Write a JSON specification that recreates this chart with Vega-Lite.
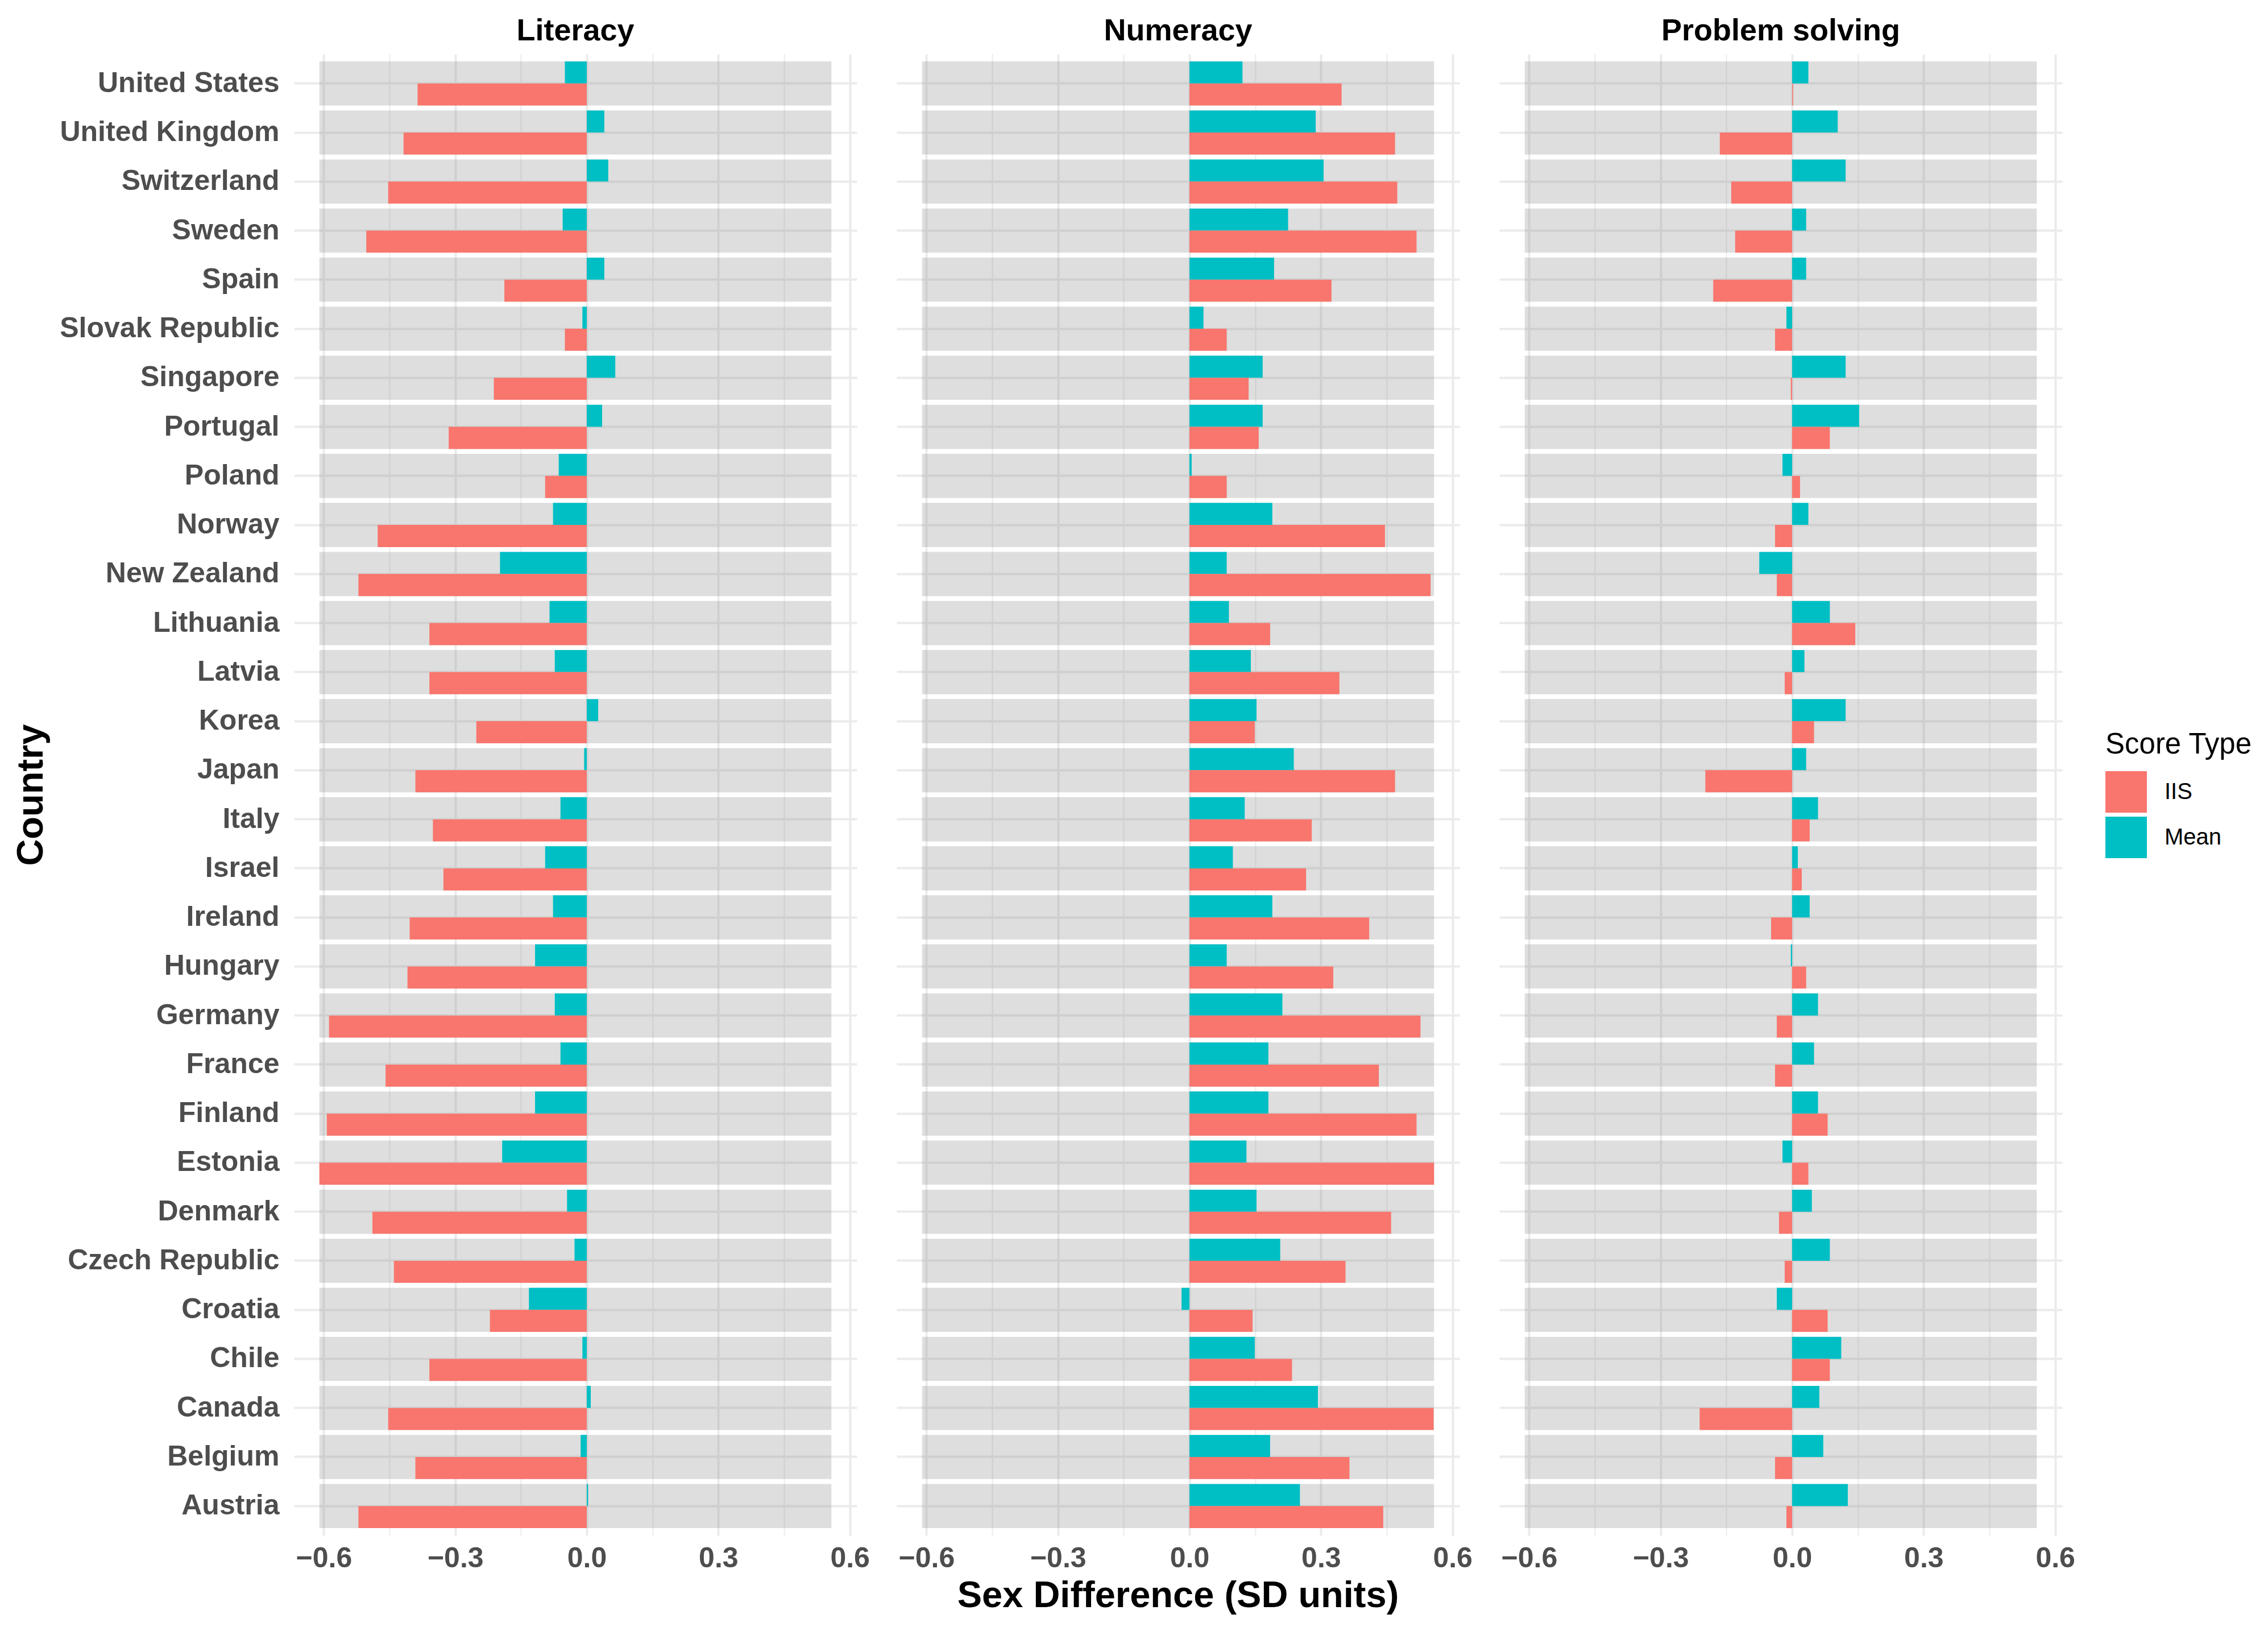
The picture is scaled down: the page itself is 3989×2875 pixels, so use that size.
{
  "$schema": "https://vega.github.io/schema/vega-lite/v6.json",
  "background": "white",
  "padding": {"left": 22, "top": 28, "right": 0, "bottom": 0},
  "datasets": {
    "scores": [
      {"country":"United States","skill":"Literacy","type":"Mean","value":-0.050},{"country":"United States","skill":"Literacy","type":"IIS","value":-0.386},
      {"country":"United Kingdom","skill":"Literacy","type":"Mean","value":0.040},{"country":"United Kingdom","skill":"Literacy","type":"IIS","value":-0.418},
      {"country":"Switzerland","skill":"Literacy","type":"Mean","value":0.049},{"country":"Switzerland","skill":"Literacy","type":"IIS","value":-0.453},
      {"country":"Sweden","skill":"Literacy","type":"Mean","value":-0.055},{"country":"Sweden","skill":"Literacy","type":"IIS","value":-0.503},
      {"country":"Spain","skill":"Literacy","type":"Mean","value":0.040},{"country":"Spain","skill":"Literacy","type":"IIS","value":-0.188},
      {"country":"Slovak Republic","skill":"Literacy","type":"Mean","value":-0.010},{"country":"Slovak Republic","skill":"Literacy","type":"IIS","value":-0.050},
      {"country":"Singapore","skill":"Literacy","type":"Mean","value":0.065},{"country":"Singapore","skill":"Literacy","type":"IIS","value":-0.212},
      {"country":"Portugal","skill":"Literacy","type":"Mean","value":0.035},{"country":"Portugal","skill":"Literacy","type":"IIS","value":-0.315},
      {"country":"Poland","skill":"Literacy","type":"Mean","value":-0.064},{"country":"Poland","skill":"Literacy","type":"IIS","value":-0.095},
      {"country":"Norway","skill":"Literacy","type":"Mean","value":-0.077},{"country":"Norway","skill":"Literacy","type":"IIS","value":-0.477},
      {"country":"New Zealand","skill":"Literacy","type":"Mean","value":-0.198},{"country":"New Zealand","skill":"Literacy","type":"IIS","value":-0.521},
      {"country":"Lithuania","skill":"Literacy","type":"Mean","value":-0.085},{"country":"Lithuania","skill":"Literacy","type":"IIS","value":-0.359},
      {"country":"Latvia","skill":"Literacy","type":"Mean","value":-0.073},{"country":"Latvia","skill":"Literacy","type":"IIS","value":-0.359},
      {"country":"Korea","skill":"Literacy","type":"Mean","value":0.026},{"country":"Korea","skill":"Literacy","type":"IIS","value":-0.252},
      {"country":"Japan","skill":"Literacy","type":"Mean","value":-0.006},{"country":"Japan","skill":"Literacy","type":"IIS","value":-0.391},
      {"country":"Italy","skill":"Literacy","type":"Mean","value":-0.060},{"country":"Italy","skill":"Literacy","type":"IIS","value":-0.351},
      {"country":"Israel","skill":"Literacy","type":"Mean","value":-0.095},{"country":"Israel","skill":"Literacy","type":"IIS","value":-0.327},
      {"country":"Ireland","skill":"Literacy","type":"Mean","value":-0.077},{"country":"Ireland","skill":"Literacy","type":"IIS","value":-0.404},
      {"country":"Hungary","skill":"Literacy","type":"Mean","value":-0.118},{"country":"Hungary","skill":"Literacy","type":"IIS","value":-0.409},
      {"country":"Germany","skill":"Literacy","type":"Mean","value":-0.073},{"country":"Germany","skill":"Literacy","type":"IIS","value":-0.588},
      {"country":"France","skill":"Literacy","type":"Mean","value":-0.060},{"country":"France","skill":"Literacy","type":"IIS","value":-0.459},
      {"country":"Finland","skill":"Literacy","type":"Mean","value":-0.118},{"country":"Finland","skill":"Literacy","type":"IIS","value":-0.593},
      {"country":"Estonia","skill":"Literacy","type":"Mean","value":-0.193},{"country":"Estonia","skill":"Literacy","type":"IIS","value":-0.610},
      {"country":"Denmark","skill":"Literacy","type":"Mean","value":-0.045},{"country":"Denmark","skill":"Literacy","type":"IIS","value":-0.489},
      {"country":"Czech Republic","skill":"Literacy","type":"Mean","value":-0.028},{"country":"Czech Republic","skill":"Literacy","type":"IIS","value":-0.440},
      {"country":"Croatia","skill":"Literacy","type":"Mean","value":-0.132},{"country":"Croatia","skill":"Literacy","type":"IIS","value":-0.221},
      {"country":"Chile","skill":"Literacy","type":"Mean","value":-0.010},{"country":"Chile","skill":"Literacy","type":"IIS","value":-0.359},
      {"country":"Canada","skill":"Literacy","type":"Mean","value":0.009},{"country":"Canada","skill":"Literacy","type":"IIS","value":-0.453},
      {"country":"Belgium","skill":"Literacy","type":"Mean","value":-0.014},{"country":"Belgium","skill":"Literacy","type":"IIS","value":-0.391},
      {"country":"Austria","skill":"Literacy","type":"Mean","value":0.003},{"country":"Austria","skill":"Literacy","type":"IIS","value":-0.521},

      {"country":"United States","skill":"Numeracy","type":"Mean","value":0.121},{"country":"United States","skill":"Numeracy","type":"IIS","value":0.347},
      {"country":"United Kingdom","skill":"Numeracy","type":"Mean","value":0.288},{"country":"United Kingdom","skill":"Numeracy","type":"IIS","value":0.469},
      {"country":"Switzerland","skill":"Numeracy","type":"Mean","value":0.306},{"country":"Switzerland","skill":"Numeracy","type":"IIS","value":0.474},
      {"country":"Sweden","skill":"Numeracy","type":"Mean","value":0.225},{"country":"Sweden","skill":"Numeracy","type":"IIS","value":0.518},
      {"country":"Spain","skill":"Numeracy","type":"Mean","value":0.193},{"country":"Spain","skill":"Numeracy","type":"IIS","value":0.324},
      {"country":"Slovak Republic","skill":"Numeracy","type":"Mean","value":0.032},{"country":"Slovak Republic","skill":"Numeracy","type":"IIS","value":0.085},
      {"country":"Singapore","skill":"Numeracy","type":"Mean","value":0.167},{"country":"Singapore","skill":"Numeracy","type":"IIS","value":0.135},
      {"country":"Portugal","skill":"Numeracy","type":"Mean","value":0.167},{"country":"Portugal","skill":"Numeracy","type":"IIS","value":0.158},
      {"country":"Poland","skill":"Numeracy","type":"Mean","value":0.005},{"country":"Poland","skill":"Numeracy","type":"IIS","value":0.085},
      {"country":"Norway","skill":"Numeracy","type":"Mean","value":0.189},{"country":"Norway","skill":"Numeracy","type":"IIS","value":0.446},
      {"country":"New Zealand","skill":"Numeracy","type":"Mean","value":0.085},{"country":"New Zealand","skill":"Numeracy","type":"IIS","value":0.550},
      {"country":"Lithuania","skill":"Numeracy","type":"Mean","value":0.090},{"country":"Lithuania","skill":"Numeracy","type":"IIS","value":0.184},
      {"country":"Latvia","skill":"Numeracy","type":"Mean","value":0.140},{"country":"Latvia","skill":"Numeracy","type":"IIS","value":0.342},
      {"country":"Korea","skill":"Numeracy","type":"Mean","value":0.153},{"country":"Korea","skill":"Numeracy","type":"IIS","value":0.149},
      {"country":"Japan","skill":"Numeracy","type":"Mean","value":0.238},{"country":"Japan","skill":"Numeracy","type":"IIS","value":0.469},
      {"country":"Italy","skill":"Numeracy","type":"Mean","value":0.126},{"country":"Italy","skill":"Numeracy","type":"IIS","value":0.279},
      {"country":"Israel","skill":"Numeracy","type":"Mean","value":0.099},{"country":"Israel","skill":"Numeracy","type":"IIS","value":0.266},
      {"country":"Ireland","skill":"Numeracy","type":"Mean","value":0.189},{"country":"Ireland","skill":"Numeracy","type":"IIS","value":0.410},
      {"country":"Hungary","skill":"Numeracy","type":"Mean","value":0.085},{"country":"Hungary","skill":"Numeracy","type":"IIS","value":0.328},
      {"country":"Germany","skill":"Numeracy","type":"Mean","value":0.212},{"country":"Germany","skill":"Numeracy","type":"IIS","value":0.527},
      {"country":"France","skill":"Numeracy","type":"Mean","value":0.180},{"country":"France","skill":"Numeracy","type":"IIS","value":0.432},
      {"country":"Finland","skill":"Numeracy","type":"Mean","value":0.180},{"country":"Finland","skill":"Numeracy","type":"IIS","value":0.518},
      {"country":"Estonia","skill":"Numeracy","type":"Mean","value":0.130},{"country":"Estonia","skill":"Numeracy","type":"IIS","value":0.558},
      {"country":"Denmark","skill":"Numeracy","type":"Mean","value":0.153},{"country":"Denmark","skill":"Numeracy","type":"IIS","value":0.460},
      {"country":"Czech Republic","skill":"Numeracy","type":"Mean","value":0.207},{"country":"Czech Republic","skill":"Numeracy","type":"IIS","value":0.356},
      {"country":"Croatia","skill":"Numeracy","type":"Mean","value":-0.018},{"country":"Croatia","skill":"Numeracy","type":"IIS","value":0.144},
      {"country":"Chile","skill":"Numeracy","type":"Mean","value":0.149},{"country":"Chile","skill":"Numeracy","type":"IIS","value":0.234},
      {"country":"Canada","skill":"Numeracy","type":"Mean","value":0.293},{"country":"Canada","skill":"Numeracy","type":"IIS","value":0.557},
      {"country":"Belgium","skill":"Numeracy","type":"Mean","value":0.184},{"country":"Belgium","skill":"Numeracy","type":"IIS","value":0.365},
      {"country":"Austria","skill":"Numeracy","type":"Mean","value":0.252},{"country":"Austria","skill":"Numeracy","type":"IIS","value":0.442},

      {"country":"United States","skill":"Problem solving","type":"Mean","value":0.037},{"country":"United States","skill":"Problem solving","type":"IIS","value":0.002},
      {"country":"United Kingdom","skill":"Problem solving","type":"Mean","value":0.104},{"country":"United Kingdom","skill":"Problem solving","type":"IIS","value":-0.165},
      {"country":"Switzerland","skill":"Problem solving","type":"Mean","value":0.122},{"country":"Switzerland","skill":"Problem solving","type":"IIS","value":-0.139},
      {"country":"Sweden","skill":"Problem solving","type":"Mean","value":0.032},{"country":"Sweden","skill":"Problem solving","type":"IIS","value":-0.130},
      {"country":"Spain","skill":"Problem solving","type":"Mean","value":0.032},{"country":"Spain","skill":"Problem solving","type":"IIS","value":-0.180},
      {"country":"Slovak Republic","skill":"Problem solving","type":"Mean","value":-0.013},{"country":"Slovak Republic","skill":"Problem solving","type":"IIS","value":-0.039},
      {"country":"Singapore","skill":"Problem solving","type":"Mean","value":0.122},{"country":"Singapore","skill":"Problem solving","type":"IIS","value":-0.003},
      {"country":"Portugal","skill":"Problem solving","type":"Mean","value":0.153},{"country":"Portugal","skill":"Problem solving","type":"IIS","value":0.086},
      {"country":"Poland","skill":"Problem solving","type":"Mean","value":-0.022},{"country":"Poland","skill":"Problem solving","type":"IIS","value":0.018},
      {"country":"Norway","skill":"Problem solving","type":"Mean","value":0.037},{"country":"Norway","skill":"Problem solving","type":"IIS","value":-0.039},
      {"country":"New Zealand","skill":"Problem solving","type":"Mean","value":-0.075},{"country":"New Zealand","skill":"Problem solving","type":"IIS","value":-0.035},
      {"country":"Lithuania","skill":"Problem solving","type":"Mean","value":0.086},{"country":"Lithuania","skill":"Problem solving","type":"IIS","value":0.144},
      {"country":"Latvia","skill":"Problem solving","type":"Mean","value":0.028},{"country":"Latvia","skill":"Problem solving","type":"IIS","value":-0.017},
      {"country":"Korea","skill":"Problem solving","type":"Mean","value":0.122},{"country":"Korea","skill":"Problem solving","type":"IIS","value":0.050},
      {"country":"Japan","skill":"Problem solving","type":"Mean","value":0.032},{"country":"Japan","skill":"Problem solving","type":"IIS","value":-0.198},
      {"country":"Italy","skill":"Problem solving","type":"Mean","value":0.059},{"country":"Italy","skill":"Problem solving","type":"IIS","value":0.040},
      {"country":"Israel","skill":"Problem solving","type":"Mean","value":0.013},{"country":"Israel","skill":"Problem solving","type":"IIS","value":0.022},
      {"country":"Ireland","skill":"Problem solving","type":"Mean","value":0.040},{"country":"Ireland","skill":"Problem solving","type":"IIS","value":-0.048},
      {"country":"Hungary","skill":"Problem solving","type":"Mean","value":-0.003},{"country":"Hungary","skill":"Problem solving","type":"IIS","value":0.032},
      {"country":"Germany","skill":"Problem solving","type":"Mean","value":0.059},{"country":"Germany","skill":"Problem solving","type":"IIS","value":-0.035},
      {"country":"France","skill":"Problem solving","type":"Mean","value":0.050},{"country":"France","skill":"Problem solving","type":"IIS","value":-0.039},
      {"country":"Finland","skill":"Problem solving","type":"Mean","value":0.059},{"country":"Finland","skill":"Problem solving","type":"IIS","value":0.081},
      {"country":"Estonia","skill":"Problem solving","type":"Mean","value":-0.022},{"country":"Estonia","skill":"Problem solving","type":"IIS","value":0.037},
      {"country":"Denmark","skill":"Problem solving","type":"Mean","value":0.045},{"country":"Denmark","skill":"Problem solving","type":"IIS","value":-0.030},
      {"country":"Czech Republic","skill":"Problem solving","type":"Mean","value":0.086},{"country":"Czech Republic","skill":"Problem solving","type":"IIS","value":-0.017},
      {"country":"Croatia","skill":"Problem solving","type":"Mean","value":-0.035},{"country":"Croatia","skill":"Problem solving","type":"IIS","value":0.081},
      {"country":"Chile","skill":"Problem solving","type":"Mean","value":0.112},{"country":"Chile","skill":"Problem solving","type":"IIS","value":0.086},
      {"country":"Canada","skill":"Problem solving","type":"Mean","value":0.062},{"country":"Canada","skill":"Problem solving","type":"IIS","value":-0.211},
      {"country":"Belgium","skill":"Problem solving","type":"Mean","value":0.071},{"country":"Belgium","skill":"Problem solving","type":"IIS","value":-0.039},
      {"country":"Austria","skill":"Problem solving","type":"Mean","value":0.127},{"country":"Austria","skill":"Problem solving","type":"IIS","value":-0.013}
    ]
  },
  "data": {"name": "scores"},
  "transform": [
    {"joinaggregate": [
      {"op": "min", "field": "value", "as": "lo"},
      {"op": "max", "field": "value", "as": "hi"}
    ]}
  ],
  "facet": {
    "column": {
      "field": "skill",
      "type": "nominal",
      "sort": ["Literacy", "Numeracy", "Problem solving"],
      "header": {
        "title": "Sex Difference (SD units)",
        "titleOrient": "bottom",
        "titleFontSize": 65,
        "titleFontWeight": "bold",
        "titleColor": "#000000",
        "titlePadding": 0,
        "titleLimit": 0,
        "labelOrient": "top",
        "labelFontSize": 54,
        "labelFontWeight": "bold",
        "labelColor": "#000000",
        "labelPadding": 13,
        "labelLimit": 0
      }
    }
  },
  "spacing": 70,
  "spec": {
    "width": 990,
    "height": 2605,
    "layer": [
      {
        "transform": [{"filter": "datum.type === 'IIS'"}],
        "mark": {"type": "bar", "color": "#808080", "opacity": 0.26},
        "encoding": {
          "y": {
            "field": "country",
            "type": "nominal",
            "sort": "descending",
            "scale": {"paddingInner": 0.1, "paddingOuter": 0.15},
            "axis": {
              "title": "Country",
              "titleFontSize": 65,
              "titleFontWeight": "bold",
              "titleColor": "#000000",
              "titleX": -443,
              "titleBaseline": "alphabetic",
              "labelFontSize": 50,
              "labelFontWeight": "bold",
              "labelColor": "#4D4D4D",
              "labelPadding": 26,
              "labelLimit": 0,
              "ticks": false,
              "domain": false,
              "grid": true,
              "bandPosition": 0.5,
              "gridColor": "#EBEBEB",
              "gridWidth": 4
            }
          },
          "x": {
            "field": "lo",
            "type": "quantitative",
            "scale": {"domain": [-0.668, 0.616], "nice": false, "zero": false},
            "axis": {
              "orient": "top",
              "title": null,
              "values": [-0.45, -0.15, 0.15, 0.45],
              "labels": false,
              "ticks": false,
              "domain": false,
              "grid": true,
              "gridColor": "#EBEBEB",
              "gridWidth": 2
            }
          },
          "x2": {"field": "hi"}
        }
      },
      {
        "mark": {"type": "bar"},
        "encoding": {
          "y": {"field": "country", "type": "nominal", "sort": "descending"},
          "yOffset": {"field": "type", "type": "nominal", "sort": ["Mean", "IIS"]},
          "x": {
            "field": "value",
            "type": "quantitative",
            "axis": {
              "orient": "bottom",
              "title": null,
              "values": [-0.6, -0.3, 0, 0.3, 0.6],
              "format": ".1f",
              "labelFontSize": 50,
              "labelFontWeight": "bold",
              "labelColor": "#4D4D4D",
              "labelPadding": 15,
              "ticks": false,
              "domain": false,
              "grid": true,
              "gridColor": "#EBEBEB",
              "gridWidth": 4
            }
          },
          "color": {
            "field": "type",
            "type": "nominal",
            "scale": {"domain": ["IIS", "Mean"], "range": ["#F8766D", "#00BFC4"]},
            "legend": {
              "title": "Score Type",
              "orient": "none",
              "legendX": 3186,
              "legendY": 1190,
              "titleFontSize": 51,
              "titleFontWeight": "normal",
              "titleColor": "#000000",
              "titlePadding": 20,
              "titleLimit": 0,
              "labelFontSize": 40,
              "labelColor": "#000000",
              "labelOffset": 31,
              "labelLimit": 0,
              "symbolType": "square",
              "symbolSize": 5329,
              "symbolStrokeWidth": 0,
              "symbolOpacity": 1,
              "rowPadding": 7
            }
          }
        }
      }
    ]
  },
  "config": {
    "font": "Liberation Sans",
    "view": {"stroke": null},
    "axis": {"labelFont": "Liberation Sans", "titleFont": "Liberation Sans"}
  }
}
